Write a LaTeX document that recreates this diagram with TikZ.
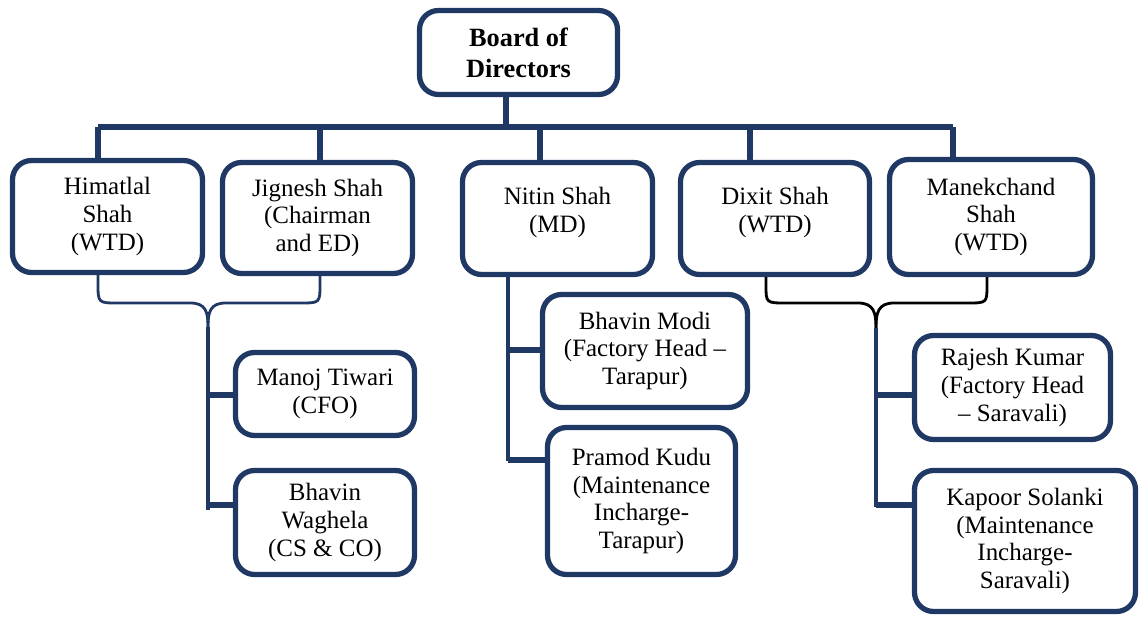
\documentclass[tikz,border=0pt]{standalone}
\usepackage{fontspec}
\setmainfont{Liberation Serif}
\definecolor{navy}{HTML}{1F3864}
\tikzset{
	box/.style={draw=navy, line width=3pt, rounded corners=0.38cm, fill=white, align=center, inner sep=0pt, font=\fontsize{14.2}{15.9}\selectfont},
	tree/.style={navy, line width=3pt},
	trunk/.style={navy, line width=1.8pt},
	stub/.style={navy, line width=3pt},
	brace/.style={line width=1.6pt},
}
\begin{document}
\begin{tikzpicture}[x=0.02cm,y=-0.02cm]
		\useasboundingbox (0,0) rectangle (1140,617);
		
		\node[box, minimum width=3.96cm, minimum height=1.68cm, font=\fontsize{15}{17.6}\selectfont\bfseries] (board) at (518.5,52.5) {Board of\\Directors};
		
		\node[box, minimum width=3.8cm, minimum height=2.24cm] (himat) at (107.5,216.5) {Himatlal\\Shah\\(WTD)};
		\node[box, minimum width=3.8cm, minimum height=2.22cm] (jig) at (317.5,218) {Jignesh Shah\\(Chairman\\and ED)};
		\node[box, minimum width=3.8cm, minimum height=2.24cm] (nitin) at (557.5,218.5) {Nitin Shah\\(MD)\\[-6pt]\mbox{}};
		\node[box, minimum width=3.78cm, minimum height=2.24cm] (dixit) at (775,218.5) {Dixit Shah\\(WTD)\\[-6pt]\mbox{}};
		\node[box, minimum width=4.06cm, minimum height=2.3cm] (manek) at (991,217) {Manekchand\\Shah\\(WTD)};
		
		\node[box, minimum width=3.58cm, minimum height=1.66cm] (manoj) at (325,394) {Manoj Tiwari\\(CFO)};
		\node[box, minimum width=3.58cm, minimum height=2.08cm] (wagh) at (325,522.5) {Bhavin\\Waghela\\(CS \& CO)};
		\node[box, minimum width=4.1cm, minimum height=2.26cm] (modi) at (645,351) {Bhavin Modi\\(Factory Head --\\Tarapur)};
		\node[box, minimum width=3.76cm, minimum height=2.94cm] (pramod) at (641.5,501) {Pramod Kudu\\(Maintenance\\Incharge-\\Tarapur)};
		\node[box, minimum width=3.92cm, minimum height=2.08cm] (rajesh) at (1012.5,387.5) {Rajesh Kumar\\(Factory Head\\-- Saravali)};
		\node[box, minimum width=4.42cm, minimum height=2.82cm] (kapoor) at (1025,541) {Kapoor Solanki\\(Maintenance\\Incharge-\\Saravali)};
		
		\coordinate (bus) at (506,127);
		\coordinate (d1) at (98,127);
		\coordinate (d2) at (320,127);
		\coordinate (d3) at (540,127);
		\coordinate (d4) at (750,127);
		\coordinate (d5) at (953,127);
		\draw[tree] (board.south -| bus) -- (bus);
		\draw[tree] (d1) -- (d5);
		\draw[tree] (d1) -- (d1 |- himat.north);
		\draw[tree] (d2) -- (d2 |- jig.north);
		\draw[tree] (d3) -- (d3 |- nitin.north);
		\draw[tree] (d4) -- (d4 |- dixit.north);
		\draw[tree] (d5) -- (d5 |- manek.north);
		
		\coordinate (tipL) at (208,327);
		\draw[brace, navy] (himat.south -| 98,0) -- ++(0,8) .. controls (98,303) .. (118,303) -- (190,303) .. controls (206,303) and (208,312) .. (tipL);
		\draw[brace, navy] (jig.south -| 320,0) -- ++(0,8) .. controls (320,303) .. (300,303) -- (226,303) .. controls (210,303) and (208,312) .. (tipL);
		\draw[trunk] (tipL) -- (208,510);
		\draw[stub] (208,395) -- (208,395 -| manoj.west);
		\draw[stub] (208,505) -- (208,505 -| wagh.west);
		
		\coordinate (tipM) at (508,461);
		\draw[trunk] (nitin.south -| tipM) -- (tipM);
		\draw[stub] (508,350) -- (508,350 -| modi.west);
		\draw[stub] (508,460) -- (508,460 -| pramod.west);
		
		\coordinate (tipR) at (876,328);
		\draw[brace] (dixit.south -| 766,0) -- ++(0,8) .. controls (766,303) .. (786,303) -- (858,303) .. controls (874,303) and (876,313) .. (tipR);
		\draw[brace] (manek.south -| 987,0) -- ++(0,8) .. controls (987,303) .. (967,303) -- (894,303) .. controls (878,303) and (876,313) .. (tipR);
		\draw[trunk] (tipR) -- (876,507);
		\draw[stub] (876,395) -- (876,395 -| rajesh.west);
		\draw[stub] (876,505) -- (876,505 -| kapoor.west);
	\end{tikzpicture}
\end{document}
